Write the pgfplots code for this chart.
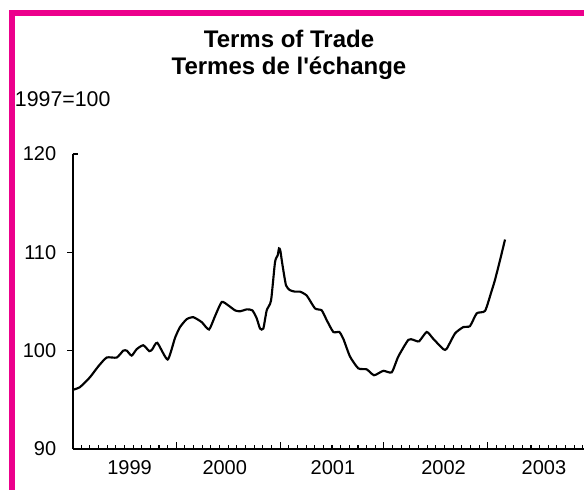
\documentclass[border=0pt]{standalone}
\usepackage{pgfplots}
\pgfplotsset{compat=1.18}
\usepackage{fontspec}
\setmainfont{Liberation Sans}
\definecolor{framepink}{RGB}{236,0,140}
\begin{document}
\begin{tikzpicture}
\path[use as bounding box] (0,0) rectangle (438pt,366.75pt);
\draw[framepink, line width=3.9pt] (9pt,-2pt) -- (9pt,357pt) -- (440pt,357pt);
\node[font=\fontsize{18}{21}\selectfont\bfseries, anchor=base] at (216.75pt,331pt) {Terms of Trade};
\node[font=\fontsize{18}{21}\selectfont\bfseries, anchor=base] at (216.75pt,310.5pt) {Termes de l\textquotesingle échange};
\node[font=\fontsize{16}{19}\selectfont, anchor=base west, inner sep=0pt] at (11pt,286.5pt) {1997=100};
\begin{axis}[
  at={(54.375pt,30pt)}, anchor=south west,
  scale only axis, width=383.625pt, height=221.25pt,
  xmin=0, xmax=59.13, ymin=90, ymax=120,
  axis x line=bottom, axis y line=left,
  axis line style={-, line width=1.5pt},
  clip mode=individual,
  /pgf/number format/assume math mode=true,
  tick label style={font=\fontsize{15}{18}\selectfont},
  tick align=inside,
  xtick={0,12,24,36,48}, xticklabels={},
  minor xtick={1,2,...,59},
  major tick length=5.5pt, minor tick length=3pt,
  tick style={black, line width=0.8pt},
  extra x ticks={6.6,17.6,30.1,42.9,54.5},
  extra x tick labels={1999,2000,2001,2002,2003},
  extra x tick style={major tick length=0pt, xticklabel style={anchor=north, inner sep=0pt, yshift=-8.5pt}},
  ytick={90,100,110,120},
  ytick style={draw=none},
  yticklabel style={anchor=east, inner sep=0pt, xshift=-12pt},
]
\addplot[black, line width=1.6pt, smooth, tension=0.35] coordinates {
(0,96.0) (0.87,96.3) (2.02,97.3) (2.98,98.4) (3.95,99.3) (5.11,99.3)
(5.87,100.0) (6.27,100.0) (6.84,99.5) (7.42,100.15) (8.18,100.55) (8.88,99.95)
(9.23,100.15) (9.80,100.8) (11.0,99.1) (11.85,101.3) (12.43,102.4) (13.2,103.2)
(13.97,103.4) (14.94,102.9) (15.78,102.15) (16.47,103.5) (17.25,104.95) (18.01,104.6)
(18.79,104.1) (19.36,104.0) (20.14,104.2) (20.79,104.1) (21.29,103.3) (21.68,102.25)
(22.06,102.25) (22.45,104.1) (22.95,105.1) (23.41,109.0) (23.72,109.7) (23.87,110.4)
(24.02,110.2) (24.25,108.85) (24.68,106.65) (25.14,106.15) (25.72,106.0) (26.3,106.0)
(27.08,105.6) (28.03,104.3) (28.81,104.1) (29.39,103.1) (30.15,101.9) (30.84,101.9)
(31.31,101.2) (32.08,99.4) (33.04,98.2) (34.01,98.1) (34.86,97.5) (35.93,97.95)
(36.90,97.8) (37.66,99.4) (38.82,101.1) (39.40,101.1) (40.06,100.95) (40.95,101.9)
(41.71,101.2) (42.87,100.15) (43.26,100.2) (44.22,101.75) (45.18,102.4) (45.95,102.5)
(46.73,103.8) (47.69,104.05) (48.46,106.1) (48.84,107.2) (49.42,109.2) (50.0,111.3)
};
\draw[line width=0.8pt] (axis cs:0,100) -- ++(-4.5pt,0pt);
\draw[line width=0.8pt] (axis cs:0,110) -- ++(-4.5pt,0pt);
\draw[line width=0.8pt] (axis cs:0,120) -- ++(3.75pt,0pt);
\end{axis}
\end{tikzpicture}
\end{document}
